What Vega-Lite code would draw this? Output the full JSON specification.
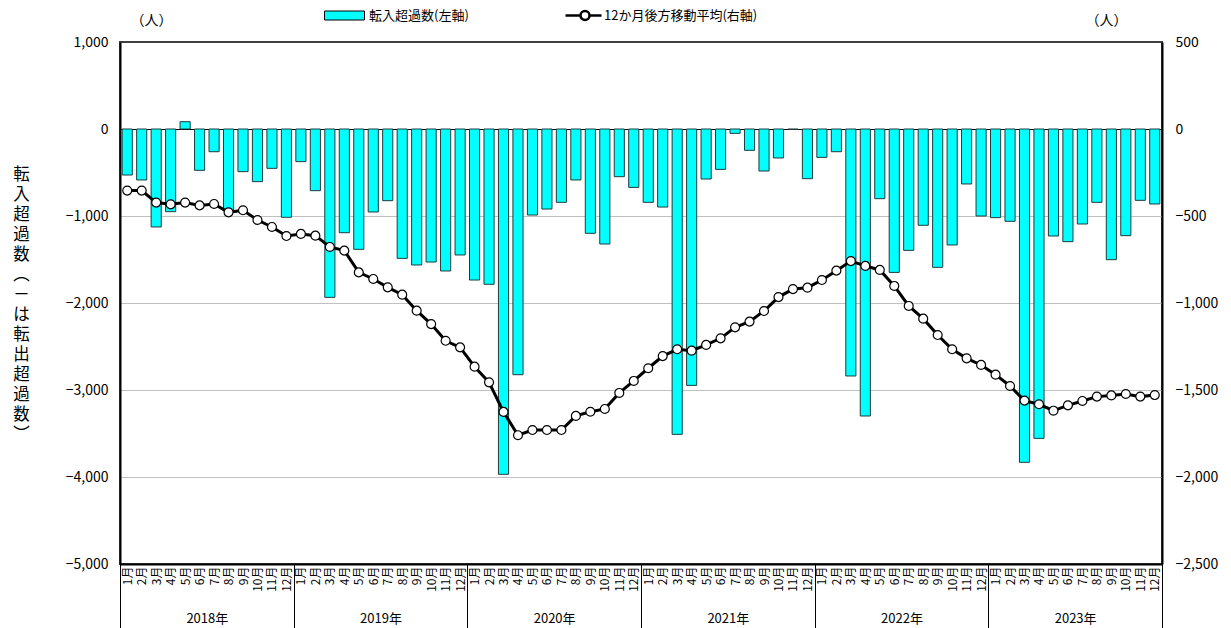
{
  "$schema": "https://vega.github.io/schema/vega-lite/v6.json",
  "width": 1042,
  "height": 522,
  "autosize": {"type": "none"},
  "padding": {"left": 120, "top": 42, "right": 69, "bottom": 64},
  "background": "white",
  "config": {
    "font": "Noto Sans CJK JP",
    "view": {"stroke": "#404040", "strokeWidth": 2},
    "axis": {"labelFont": "Noto Sans CJK JP", "titleFont": "Noto Sans CJK JP", "labelColor": "#000", "titleColor": "#000", "titleFontWeight": "normal"},
    "legend": {"labelFont": "Noto Sans CJK JP"}
  },
  "data": {"values": [
    {"ym": "2018-01", "net": -529, "ma": -354}, {"ym": "2018-02", "net": -586, "ma": -354}, {"ym": "2018-03", "net": -1126, "ma": -423},
    {"ym": "2018-04", "net": -950, "ma": -433}, {"ym": "2018-05", "net": 84, "ma": -423}, {"ym": "2018-06", "net": -475, "ma": -439},
    {"ym": "2018-07", "net": -261, "ma": -431}, {"ym": "2018-08", "net": -931, "ma": -479}, {"ym": "2018-09", "net": -490, "ma": -467},
    {"ym": "2018-10", "net": -605, "ma": -523}, {"ym": "2018-11", "net": -452, "ma": -563}, {"ym": "2018-12", "net": -1015, "ma": -615},
    {"ym": "2019-01", "net": -375, "ma": -603}, {"ym": "2019-02", "net": -709, "ma": -613}, {"ym": "2019-03", "net": -1935, "ma": -678},
    {"ym": "2019-04", "net": -1192, "ma": -699}, {"ym": "2019-05", "net": -1383, "ma": -824}, {"ym": "2019-06", "net": -954, "ma": -862},
    {"ym": "2019-07", "net": -824, "ma": -910}, {"ym": "2019-08", "net": -1487, "ma": -952}, {"ym": "2019-09", "net": -1563, "ma": -1044},
    {"ym": "2019-10", "net": -1529, "ma": -1121}, {"ym": "2019-11", "net": -1632, "ma": -1217}, {"ym": "2019-12", "net": -1448, "ma": -1255},
    {"ym": "2020-01", "net": -1736, "ma": -1366}, {"ym": "2020-02", "net": -1785, "ma": -1456}, {"ym": "2020-03", "net": -3969, "ma": -1626},
    {"ym": "2020-04", "net": -2824, "ma": -1760}, {"ym": "2020-05", "net": -989, "ma": -1730}, {"ym": "2020-06", "net": -920, "ma": -1730},
    {"ym": "2020-07", "net": -843, "ma": -1730}, {"ym": "2020-08", "net": -586, "ma": -1649}, {"ym": "2020-09", "net": -1199, "ma": -1625},
    {"ym": "2020-10", "net": -1322, "ma": -1609}, {"ym": "2020-11", "net": -548, "ma": -1517}, {"ym": "2020-12", "net": -671, "ma": -1448},
    {"ym": "2021-01", "net": -843, "ma": -1375}, {"ym": "2021-02", "net": -897, "ma": -1305}, {"ym": "2021-03", "net": -3510, "ma": -1266},
    {"ym": "2021-04", "net": -2947, "ma": -1274}, {"ym": "2021-05", "net": -575, "ma": -1241}, {"ym": "2021-06", "net": -464, "ma": -1203},
    {"ym": "2021-07", "net": -50, "ma": -1140}, {"ym": "2021-08", "net": -245, "ma": -1107}, {"ym": "2021-09", "net": -483, "ma": -1046},
    {"ym": "2021-10", "net": -333, "ma": -966}, {"ym": "2021-11", "net": -5, "ma": -920}, {"ym": "2021-12", "net": -571, "ma": -912},
    {"ym": "2022-01", "net": -326, "ma": -868}, {"ym": "2022-02", "net": -261, "ma": -814}, {"ym": "2022-03", "net": -2839, "ma": -759},
    {"ym": "2022-04", "net": -3299, "ma": -787}, {"ym": "2022-05", "net": -801, "ma": -810}, {"ym": "2022-06", "net": -1648, "ma": -902},
    {"ym": "2022-07", "net": -1395, "ma": -1017}, {"ym": "2022-08", "net": -1107, "ma": -1090}, {"ym": "2022-09", "net": -1590, "ma": -1184},
    {"ym": "2022-10", "net": -1333, "ma": -1266}, {"ym": "2022-11", "net": -632, "ma": -1318}, {"ym": "2022-12", "net": -1000, "ma": -1356},
    {"ym": "2023-01", "net": -1019, "ma": -1412}, {"ym": "2023-02", "net": -1061, "ma": -1477}, {"ym": "2023-03", "net": -3831, "ma": -1561},
    {"ym": "2023-04", "net": -3556, "ma": -1582}, {"ym": "2023-05", "net": -1230, "ma": -1619}, {"ym": "2023-06", "net": -1295, "ma": -1588},
    {"ym": "2023-07", "net": -1092, "ma": -1563}, {"ym": "2023-08", "net": -843, "ma": -1538}, {"ym": "2023-09", "net": -1502, "ma": -1531},
    {"ym": "2023-10", "net": -1226, "ma": -1523}, {"ym": "2023-11", "net": -820, "ma": -1538}, {"ym": "2023-12", "net": -862, "ma": -1529}
  ]},
  "layer": [
    {
      "mark": {"type": "bar", "stroke": "#1e3c3c", "strokeWidth": 1},
      "encoding": {
        "x": {
          "field": "ym", "type": "ordinal",
          "scale": {"paddingInner": 0.3, "paddingOuter": 0.15},
          "axis": {
            "orient": "bottom", "bandPosition": 0.5, "tickExtra": false,
            "title": "（人）", "titleAngle": 0, "titleFontSize": 14, "titleX": 31, "titleY": -544, "titleAlign": "center", "titleBaseline": "middle",
            "labelExpr": "toNumber(slice(datum.value, 5)) + '月'",
            "labelAngle": -90, "labelAlign": "right", "labelBaseline": "middle",
            "labelFontSize": 12, "labelPadding": -62, "labelOverlap": false, "labelBound": false, "labelFlush": false,
            "ticks": true, "tickSize": 64, "tickOffset": -7.236, "labelOffset": 7.236,
            "tickColor": "#000", "tickWidth": 1,
            "tickOpacity": {"condition": {"test": "slice(datum.value, 5) === '01'", "value": 1}, "value": 0},
            "domain": true, "domainColor": "#000", "domainWidth": 2, "grid": false
          }
        },
        "y": {
          "field": "net", "type": "quantitative",
          "scale": {"domain": [-5000, 1000], "nice": false, "zero": false},
          "axis": {
            "orient": "left", "values": [1000, 0, -1000, -2000, -3000, -4000, -5000], "format": ",.0f",
            "labelFontSize": 14, "labelPadding": 12, "ticks": false,
            "domain": true, "domainColor": "#000", "domainWidth": 2,
            "grid": true,
            "gridColor": {"condition": [{"test": "datum.value === 0", "value": "#000000"}, {"test": "datum.value === 1000 || datum.value === -5000", "value": "#404040"}], "value": "#c0c0c0"},
            "gridWidth": 1,
            "title": ["転", "入", "超", "過", "数", "︵", "－", "は", "転", "出", "超", "過", "数", "︶"],
            "titleAngle": 0, "titleFontSize": 16.5, "titleLineHeight": 20,
            "titleX": -99, "titleY": 124, "titleAlign": "center", "titleBaseline": "top"
          }
        },
        "color": {
          "datum": "転入超過数(左軸)", "type": "nominal",
          "scale": {"domain": ["転入超過数(左軸)"], "range": ["#00FFFF"]},
          "legend": {
            "orient": "none", "legendX": 203, "legendY": -33, "title": null,
            "symbolType": "M-1,-0.9H7V0.9H-1Z", "symbolSize": 100,
            "symbolStrokeColor": "#000000", "symbolStrokeWidth": 1, "symbolOpacity": 1,
            "labelFontSize": 13, "labelOffset": 33, "labelLimit": 400, "labelColor": "#000"
          }
        }
      }
    },
    {
      "mark": {"type": "line", "strokeWidth": 3, "point": {"filled": true, "fill": "#ffffff", "stroke": "#000000", "strokeWidth": 1.2, "size": 80, "opacity": 1}},
      "encoding": {
        "x": {
          "field": "ym", "type": "ordinal",
          "axis": {
            "orient": "bottom", "title": null, "bandPosition": 0.5, "tickExtra": false,
            "values": ["2018-06", "2018-12", "2019-06", "2019-12", "2020-06", "2020-12", "2021-06", "2021-12", "2022-06", "2022-12", "2023-06", "2023-12"],
            "labelExpr": "slice(datum.value, 5) === '06' ? slice(datum.value, 0, 4) + '年' : ''",
            "labelAngle": 0, "labelAlign": "center", "labelBaseline": "top",
            "labelFontSize": 13, "labelPadding": -16, "labelOverlap": false, "labelBound": false, "labelFlush": false,
            "ticks": true, "tickSize": 64, "tickOffset": 7.236, "tickColor": "#000", "tickWidth": 1,
            "tickOpacity": {"condition": {"test": "slice(datum.value, 5) === '12'", "value": 1}, "value": 0},
            "domain": false, "grid": false
          }
        },
        "y": {
          "field": "ma", "type": "quantitative",
          "scale": {"domain": [-2500, 500], "nice": false, "zero": false},
          "axis": {
            "orient": "right", "values": [500, 0, -500, -1000, -1500, -2000, -2500], "format": ",.0f",
            "labelFontSize": 14, "labelPadding": 13, "ticks": false,
            "domain": true, "domainColor": "#000", "domainWidth": 2, "grid": false,
            "title": "（人）", "titleAngle": 0, "titleFontSize": 14,
            "titleX": -56, "titleY": -22, "titleAlign": "center", "titleBaseline": "middle"
          }
        },
        "stroke": {
          "datum": "12か月後方移動平均(右軸)", "type": "nominal",
          "scale": {"domain": ["12か月後方移動平均(右軸)"], "range": ["#000000"]},
          "legend": {
            "orient": "none", "legendX": 444, "legendY": -33, "title": null,
            "symbolType": "M-1,0H2M3.8,0H6.2M3.8,0A0.9,0.9,0,1,1,2,0A0.9,0.9,0,1,1,3.8,0", "symbolSize": 100,
            "symbolFillColor": "#ffffff", "symbolStrokeColor": "#000000", "symbolStrokeWidth": 2.5, "symbolOpacity": 1,
            "labelFontSize": 13, "labelOffset": 27, "labelLimit": 400, "labelColor": "#000"
          }
        }
      }
    }
  ],
  "resolve": {"scale": {"y": "independent"}, "axis": {"x": "independent"}}
}
